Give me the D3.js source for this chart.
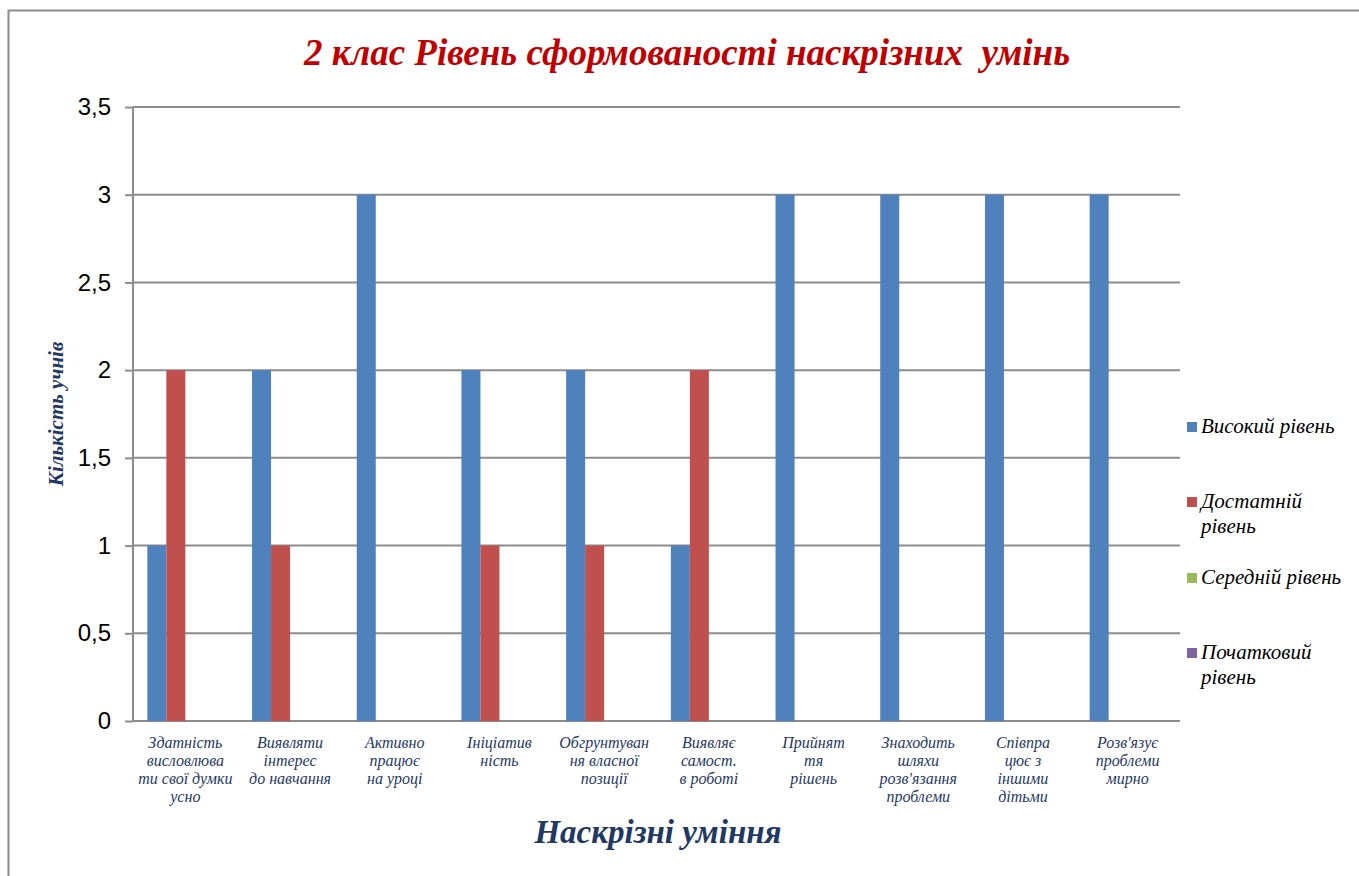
<!DOCTYPE html>
<html>
<head>
<meta charset="utf-8">
<script src="https://cdn.jsdelivr.net/npm/d3@7"></script>
<style>
  body { margin: 0; background: #fff; }
  svg { display: block; }
</style>
</head>
<body>
<svg id="chart"></svg>
<script>
// categories (line breaks as in the original chart)
const categories = [
    ["Здатність", "висловлюва", "ти свої думки", "усно"],
    ["Виявляти", "інтерес", "до навчання"],
    ["Активно", "працює", "на уроці"],
    ["Ініціатив", "ність"],
    ["Обгрунтуван", "ня власної", "позиції"],
    ["Виявляє", "самост.", "в роботі"],
    ["Прийнят", "тя", "рішень"],
    ["Знаходить", "шляхи", "розв'язання", "проблеми"],
    ["Співпра", "цює з", "іншими", "дітьми"],
    ["Розв'язує", "проблеми", "мирно"]
];

const seriesNames = [["Високий рівень"], ["Достатній", "рівень"], ["Середній рівень"], ["Початковий", "рівень"]];
const seriesColors = ["#4f81bd", "#c0504d", "#9bbb59", "#8064a2"];

const high = [1, 2, 3, 2, 2, 1, 3, 3, 3, 3];
const sufficient = [2, 1, 0, 1, 1, 2, 0, 0, 0, 0];
const medium = [0, 0, 0, 0, 0, 0, 0, 0, 0, 0];
const initial = [0, 0, 0, 0, 0, 0, 0, 0, 0, 0];

const yTicks = [0, 0.5, 1, 1.5, 2, 2.5, 3, 3.5];

const width = 1359, height = 876;
const margin = { top: 107, right: 179, bottom: 155, left: 133 };
const serif = "'Liberation Serif', 'Times New Roman', serif";

const svg = d3.select("#chart").attr("width", width).attr("height", height);

// outer frame (right and bottom edges fall outside the picture)
svg.append("rect")
    .attr("x", 8.5).attr("y", 10.5)
    .attr("width", width).attr("height", height)
    .attr("fill", "none").attr("stroke", "#8c8c8c").attr("stroke-width", 2);

const plotW = width - margin.left - margin.right;
const plotH = height - margin.top - margin.bottom;

const g = svg.append("g").attr("transform", `translate(${margin.left}, ${margin.top})`);

const x0 = d3.scaleBand().domain(d3.range(categories.length)).range([0, plotW]).paddingInner(0.274).paddingOuter(0.137);
const x1 = d3.scaleBand().domain(d3.range(4)).range([0, x0.bandwidth()]);
const y = d3.scaleLinear().domain([0, 3.5]).range([plotH, 0]);

// gridlines + y axis
const yAxis = g.append("g")
    .call(d3.axisLeft(y).tickValues(yTicks).tickSize(8).tickPadding(14)
        .tickFormat(d => String(d).replace(".", ",")));
yAxis.select(".domain").remove();
yAxis.selectAll(".tick line").attr("stroke", "#8c8c8c").attr("stroke-width", 2);
yAxis.selectAll(".tick text")
    .attr("font-family", "'Liberation Sans', Arial, sans-serif")
    .attr("font-size", 24).attr("fill", "#000");

g.append("g").selectAll("line")
    .data(yTicks)
    .join("line")
    .attr("x1", 0).attr("x2", plotW)
    .attr("y1", d => y(d)).attr("y2", d => y(d))
    .attr("stroke", "#8c8c8c").attr("stroke-width", 2);

g.append("line")
    .attr("x1", 0).attr("x2", 0).attr("y1", 0).attr("y2", plotH)
    .attr("stroke", "#8c8c8c").attr("stroke-width", 2);

// bars
const allSeries = [high, sufficient, medium, initial];
const groups = g.append("g").selectAll("g")
    .data(categories.map((c, i) => i))
    .join("g")
    .attr("transform", i => `translate(${x0(i)}, 0)`);

groups.selectAll("rect")
    .data(i => allSeries.map((s, k) => ({ k, v: s[i] })))
    .join("rect")
    .attr("x", d => x1(d.k))
    .attr("width", x1.bandwidth())
    .attr("y", d => y(d.v))
    .attr("height", d => y(0) - y(d.v))
    .attr("fill", d => seriesColors[d.k]);

// category labels
const catLabels = g.append("g").selectAll("text")
    .data(categories)
    .join("text")
    .attr("x", (d, i) => x0(i) + x0.bandwidth() / 2)
    .attr("y", plotH + 27)
    .attr("text-anchor", "middle")
    .attr("font-family", serif)
    .attr("font-style", "italic")
    .attr("font-size", 16)
    .attr("fill", "#1f3864");
catLabels.selectAll("tspan")
    .data(d => d)
    .join("tspan")
    .attr("x", function () { return d3.select(this.parentNode).attr("x"); })
    .attr("dy", (d, i) => i === 0 ? 0 : 18)
    .text(d => d);

// title
svg.append("text")
    .attr("x", 687).attr("y", 65)
    .attr("text-anchor", "middle")
    .attr("font-family", serif)
    .attr("font-style", "italic").attr("font-weight", "bold")
    .attr("font-size", 37)
    .attr("fill", "#c00000")
    .text("2 клас Рівень сформованості наскрізних\u00a0 умінь");

// axis titles
svg.append("text")
    .attr("transform", "translate(63, 414) rotate(-90)")
    .attr("text-anchor", "middle")
    .attr("font-family", serif)
    .attr("font-style", "italic").attr("font-weight", "bold")
    .attr("font-size", 21)
    .attr("fill", "#1f3864")
    .text("Кількість учнів");

svg.append("text")
    .attr("x", 658).attr("y", 843)
    .attr("text-anchor", "middle")
    .attr("font-family", serif)
    .attr("font-style", "italic").attr("font-weight", "bold")
    .attr("font-size", 33)
    .attr("fill", "#1f3864")
    .text("Наскрізні уміння");

// legend
const legendY = [433, 508, 584, 659];
const legend = svg.append("g").selectAll("g")
    .data(seriesNames)
    .join("g")
    .attr("transform", (d, i) => `translate(1187, ${legendY[i]})`);

legend.append("rect")
    .attr("x", 0).attr("y", -11)
    .attr("width", 10).attr("height", 10)
    .attr("fill", (d, i) => seriesColors[i]);

legend.append("text")
    .attr("font-family", serif)
    .attr("font-style", "italic")
    .attr("font-size", 21)
    .attr("fill", "#000")
    .selectAll("tspan")
    .data(d => d)
    .join("tspan")
    .attr("x", 14)
    .attr("dy", (d, i) => i === 0 ? 0 : 25)
    .text(d => d);
</script>
</body>
</html>
